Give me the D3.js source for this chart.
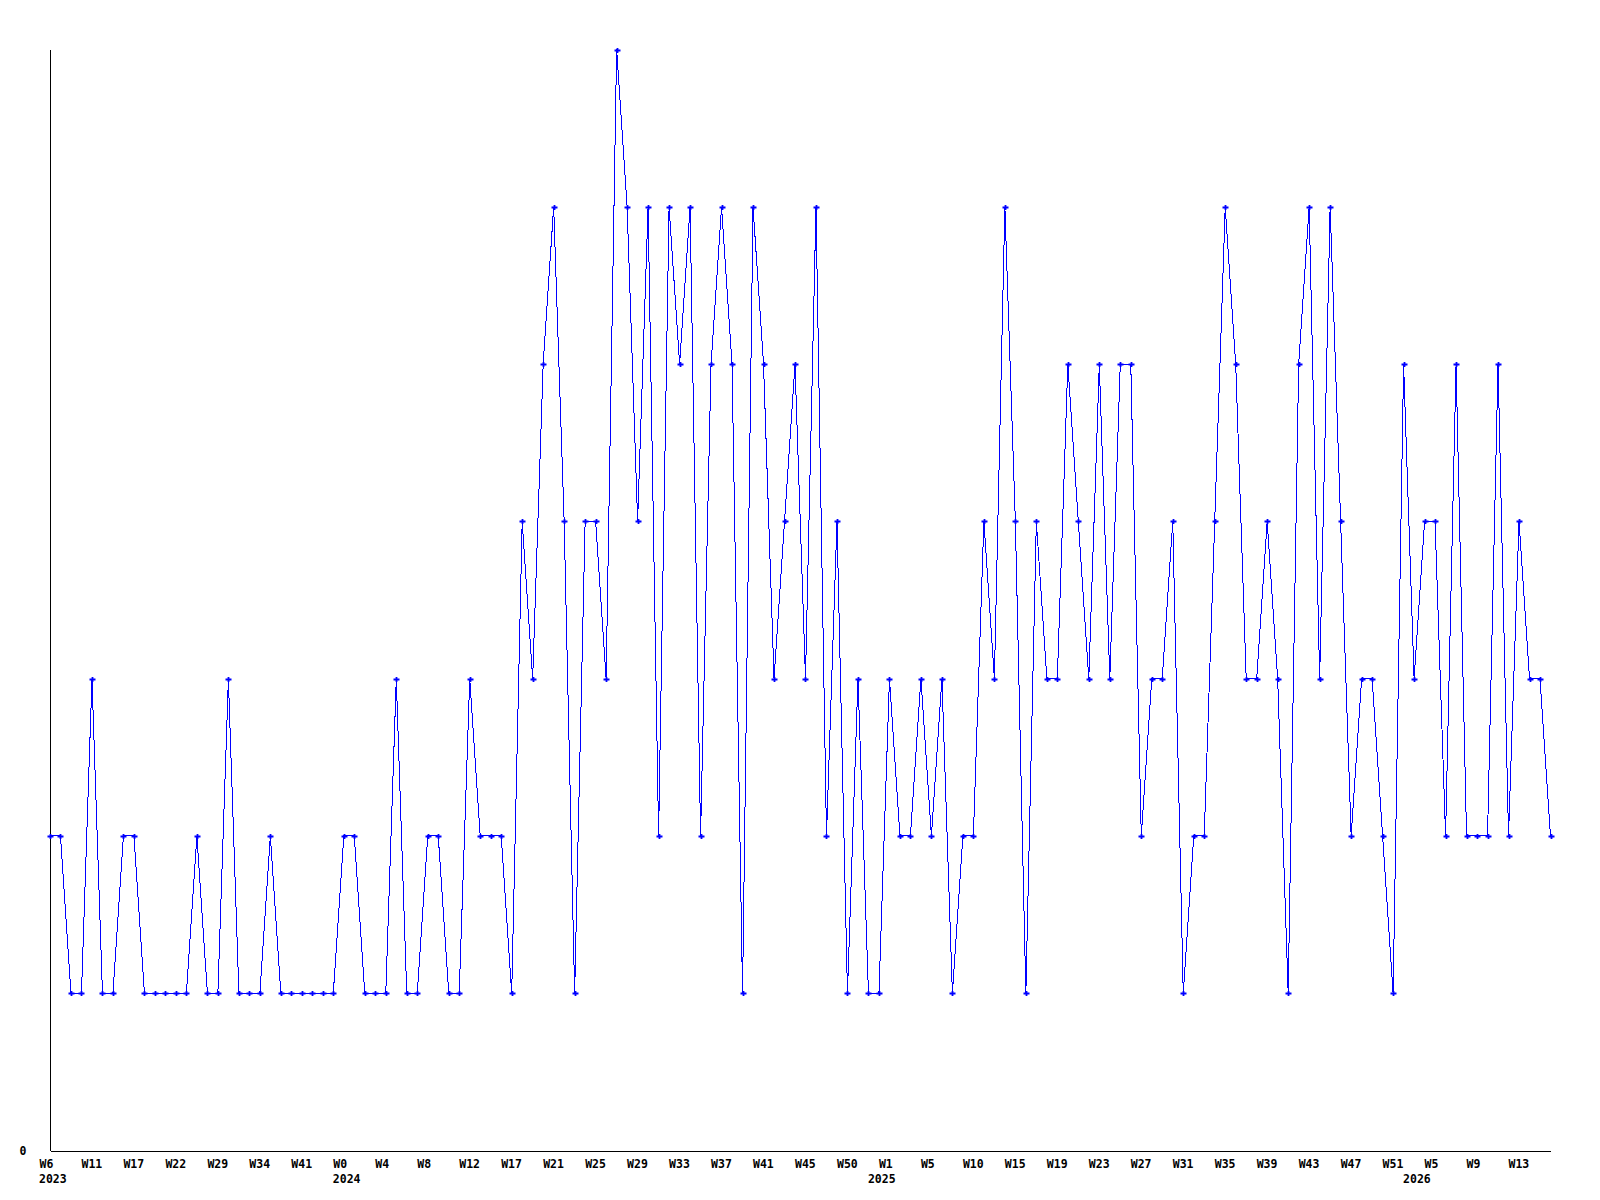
<!DOCTYPE html>
<html>
<head>
<meta charset="utf-8">
<script src="https://cdn.jsdelivr.net/npm/d3@7"></script>
<style>
  html, body { margin: 0; padding: 0; background: #ffffff; }
  svg { display: block; }
  .lbl { font-family: "DejaVu Sans Mono", monospace; font-weight: bold; font-size: 11.5px; fill: #000; }
</style>
</head>
<body>
<svg id="chart" width="1600" height="1200"></svg>
<script>
// ---- data ----
const values = [
  2,2,1,1,3,1,1,2,2,1,
  1,1,1,1,2,1,1,3,1,1,
  1,2,1,1,1,1,1,1,2,2,
  1,1,1,3,1,1,2,2,1,1,
  3,2,2,2,1,4,3,5,6,4,
  1,4,4,3,7,6,4,6,2,6,
  5,6,2,5,6,5,1,6,5,3,
  4,5,3,6,2,4,1,3,1,1,
  3,2,2,3,2,3,1,2,2,4,
  3,6,4,1,4,3,3,5,4,3,
  5,3,5,5,2,3,3,4,1,2,
  2,4,6,5,3,3,4,3,1,5,
  6,3,6,4,2,3,3,2,1,5,
  3,4,4,2,5,2,2,2,5,2,
  4,3,3,2
];
const tickLabels = [
  "W6","W11","W17","W22","W29","W34","W41","W0","W4","W8","W12","W17",
  "W21","W25","W29","W33","W37","W41","W45","W50","W1","W5","W10","W15",
  "W19","W23","W27","W31","W35","W39","W43","W47","W51","W5","W9","W13"
];
const yearNames = ["2023", "2024", "2025", "2026"];
const yearStartIndex = [0, 28, 79, 130];
const tickEvery = 4;
const yTickValues = [0];
const yMax = 7;

// ---- chart ----
const svg = d3.select("#chart");
const mLeft = 50, mRight = 1550.5, mTop = 49.5, mBottom = 1150.5;

const x = d3.scaleLinear().domain([0, values.length - 1]).range([mLeft, mRight]);
const y = d3.scaleLinear().domain([0, yMax]).range([mBottom, mTop]);

// y axis
const yAxis = svg.append("g").attr("transform", `translate(${mLeft},0)`)
  .call(d3.axisLeft(y).tickValues(yTickValues).tickSize(0).tickSizeOuter(0).tickPadding(0)
    .tickFormat(d3.format("d")));
yAxis.select(".domain").attr("stroke", "#000").attr("stroke-width", 1).attr("shape-rendering", "crispEdges");
yAxis.selectAll("text").attr("class", "lbl")
  .attr("text-anchor", "start").attr("x", 19.5 - mLeft).attr("dy", null).attr("y", 4);

// x axis
const tickIdx = tickLabels.map((_, i) => i * tickEvery);
const xAxis = svg.append("g").attr("transform", `translate(0,${mBottom})`)
  .call(d3.axisBottom(x).tickValues(tickIdx).tickSize(0).tickSizeOuter(0)
    .tickFormat((d, i) => tickLabels[i]));
xAxis.select(".domain").attr("stroke", "#000").attr("stroke-width", 1).attr("shape-rendering", "crispEdges");
xAxis.selectAll(".tick text").attr("class", "lbl")
  .attr("text-anchor", "start").attr("x", -11).attr("dy", null).attr("y", 17.5);

// year labels (second row)
svg.append("g").selectAll("text").data(yearNames).join("text")
  .attr("class", "lbl")
  .attr("text-anchor", "start")
  .attr("x", (d, i) => x(yearStartIndex[i]) - 11)
  .attr("y", mBottom + 32.5)
  .text(d => d);

// line
const line = d3.line().x((d, i) => x(i)).y(d => y(d));
svg.append("path").datum(values)
  .attr("d", line)
  .attr("fill", "none")
  .attr("stroke", "#0000ff")
  .attr("stroke-width", 1)
  .attr("shape-rendering", "crispEdges");

// markers
svg.append("g").selectAll("path").data(values).join("path")
  .attr("transform", (d, i) => `translate(${Math.round(x(i))},${Math.round(y(d))})`)
  .attr("d", "M-2.5,0.5H3.5M0.5,-2V3")
  .attr("stroke", "#0000ff")
  .attr("stroke-width", 1.8)
  .attr("fill", "none");
</script>
</body>
</html>
